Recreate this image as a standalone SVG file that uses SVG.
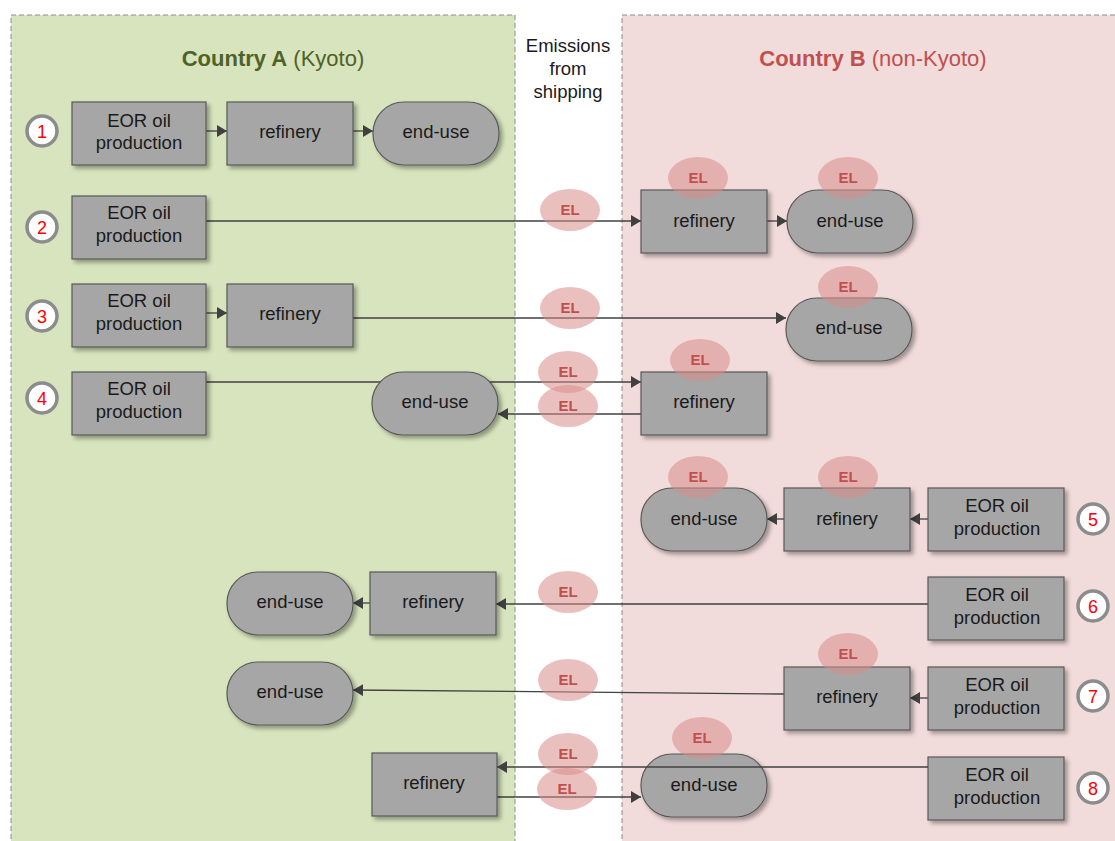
<svg xmlns="http://www.w3.org/2000/svg" width="1115" height="841" viewBox="0 0 1115 841">
<defs>
<style>
.reg{stroke:#8c8c8c;stroke-width:1;stroke-dasharray:5,3}
.box{fill:#a6a6a6;stroke:#595959;stroke-width:1.2;filter:url(#sh)}
.t{font-family:"Liberation Sans",Arial,sans-serif;font-size:18.5px;fill:#1a1a1a;text-anchor:middle}
.num{fill:#fff;stroke:#8c8c8c;stroke-width:3.5}
.nt{font-family:"Liberation Sans",Arial,sans-serif;font-size:18px;fill:#ff0000;text-anchor:middle}
.el{fill:#d98c8a;fill-opacity:0.55}
.elt{font-family:"Liberation Sans",Arial,sans-serif;font-size:15px;font-weight:bold;fill:#c0504d;text-anchor:middle}
.c{stroke:#404040;stroke-width:1.3;fill:none;marker-end:url(#ah)}
</style>
<filter id="sh" x="-10%" y="-10%" width="130%" height="140%">
<feDropShadow dx="3" dy="3" stdDeviation="2" flood-color="#000" flood-opacity="0.35"/>
</filter>
<marker id="ah" markerWidth="10" markerHeight="12" refX="10" refY="6" orient="auto" markerUnits="userSpaceOnUse">
<path d="M0,0 L10,6 L0,12 Z" fill="#404040"/>
</marker>
</defs>
<rect width="1115" height="841" fill="#fff"/>
<rect class="reg" x="11" y="15" width="504" height="840" fill="#d7e4bd"/>
<rect class="reg" x="622" y="15" width="500" height="840" fill="#f2dcdb"/>
<text x="273" y="66" font-family="Liberation Sans,Arial,sans-serif" font-size="22" text-anchor="middle" fill="#4f6228"><tspan font-weight="bold">Country A</tspan> (Kyoto)</text>
<text x="873" y="66" font-family="Liberation Sans,Arial,sans-serif" font-size="22" text-anchor="middle" fill="#c0504d"><tspan font-weight="bold">Country B</tspan> (non-Kyoto)</text>
<text class="t" x="568" y="52">Emissions</text>
<text class="t" x="568" y="75">from</text>
<text class="t" x="568" y="98">shipping</text>

<g id="connectors">
<line class="c" x1="206" y1="131" x2="227" y2="131"/>
<line class="c" x1="353" y1="131" x2="373" y2="131"/>
<line class="c" x1="206" y1="221" x2="641" y2="221"/>
<line class="c" x1="767" y1="221" x2="787" y2="221"/>
<line class="c" x1="206" y1="313" x2="227" y2="313"/>
<line class="c" x1="353" y1="318" x2="786" y2="318"/>
<line class="c" x1="206" y1="382" x2="641" y2="382"/>
<line class="c" x1="641" y1="414" x2="498" y2="414"/>
<line class="c" x1="784" y1="519" x2="767" y2="519"/>
<line class="c" x1="928" y1="519" x2="910" y2="519"/>
<line class="c" x1="928" y1="604" x2="496" y2="604"/>
<line class="c" x1="370" y1="603" x2="353" y2="603"/>
<line class="c" x1="784" y1="694" x2="353" y2="690"/>
<line class="c" x1="928" y1="698" x2="910" y2="698"/>
<line class="c" x1="497" y1="797" x2="641" y2="797"/>
</g>

<g id="n1"><circle class="num" cx="42" cy="131" r="15"/><text class="nt" x="42" y="138">1</text></g>
<g id="r1eor"><rect class="box" x="72" y="102" width="134" height="63"/><text class="t" x="139" y="127">EOR oil</text><text class="t" x="139" y="149">production</text></g>
<g id="r1ref"><rect class="box" x="227" y="102" width="126" height="63"/><text class="t" x="290" y="138">refinery</text></g>
<g id="r1end"><rect class="box" x="373" y="102" width="126" height="63" rx="31"/><text class="t" x="436" y="138">end-use</text></g>

<g id="n2"><circle class="num" cx="42" cy="227" r="15"/><text class="nt" x="42" y="234">2</text></g>
<g id="r2eor"><rect class="box" x="72" y="196" width="134" height="63"/><text class="t" x="139" y="219">EOR oil</text><text class="t" x="139" y="242">production</text></g>
<g id="r2ref"><rect class="box" x="641" y="190" width="126" height="63"/><text class="t" x="704" y="227">refinery</text></g>
<g id="r2end"><rect class="box" x="787" y="190" width="126" height="63" rx="31"/><text class="t" x="850" y="227">end-use</text></g>

<g id="n3"><circle class="num" cx="42" cy="316" r="15"/><text class="nt" x="42" y="323">3</text></g>
<g id="r3eor"><rect class="box" x="72" y="284" width="134" height="63"/><text class="t" x="139" y="307">EOR oil</text><text class="t" x="139" y="330">production</text></g>
<g id="r3ref"><rect class="box" x="227" y="284" width="126" height="63"/><text class="t" x="290" y="320">refinery</text></g>
<g id="r3end"><rect class="box" x="786" y="298" width="126" height="63" rx="31"/><text class="t" x="849" y="334">end-use</text></g>

<g id="n4"><circle class="num" cx="42" cy="398" r="15"/><text class="nt" x="42" y="405">4</text></g>
<g id="r4eor"><rect class="box" x="72" y="372" width="134" height="63"/><text class="t" x="139" y="395">EOR oil</text><text class="t" x="139" y="418">production</text></g>
<g id="r4end"><rect class="box" x="372" y="372" width="126" height="63" rx="31"/><text class="t" x="435" y="408">end-use</text></g>
<g id="r4ref"><rect class="box" x="641" y="372" width="126" height="63"/><text class="t" x="704" y="408">refinery</text></g>

<g id="n5"><circle class="num" cx="1093" cy="519" r="15"/><text class="nt" x="1093" y="526">5</text></g>
<g id="r5end"><rect class="box" x="641" y="488" width="126" height="63" rx="31"/><text class="t" x="704" y="525">end-use</text></g>
<g id="r5ref"><rect class="box" x="784" y="488" width="126" height="63"/><text class="t" x="847" y="525">refinery</text></g>
<g id="r5eor"><rect class="box" x="928" y="488" width="136" height="63"/><text class="t" x="997" y="512">EOR oil</text><text class="t" x="997" y="535">production</text></g>

<g id="n6"><circle class="num" cx="1093" cy="606" r="15"/><text class="nt" x="1093" y="613">6</text></g>
<g id="r6end"><rect class="box" x="227" y="572" width="126" height="63" rx="31"/><text class="t" x="290" y="608">end-use</text></g>
<g id="r6ref"><rect class="box" x="370" y="572" width="126" height="63"/><text class="t" x="433" y="608">refinery</text></g>
<g id="r6eor"><rect class="box" x="928" y="577" width="136" height="63"/><text class="t" x="997" y="601">EOR oil</text><text class="t" x="997" y="624">production</text></g>

<g id="n7"><circle class="num" cx="1093" cy="696" r="15"/><text class="nt" x="1093" y="703">7</text></g>
<g id="r7end"><rect class="box" x="227" y="662" width="126" height="63" rx="31"/><text class="t" x="290" y="698">end-use</text></g>
<g id="r7ref"><rect class="box" x="784" y="667" width="126" height="63"/><text class="t" x="847" y="703">refinery</text></g>
<g id="r7eor"><rect class="box" x="928" y="667" width="136" height="63"/><text class="t" x="997" y="691">EOR oil</text><text class="t" x="997" y="714">production</text></g>

<g id="n8"><circle class="num" cx="1093" cy="788" r="15"/><text class="nt" x="1093" y="795">8</text></g>
<g id="r8ref"><rect class="box" x="372" y="753" width="125" height="63"/><text class="t" x="434" y="789">refinery</text></g>
<g id="r8end"><rect class="box" x="641" y="754" width="126" height="63" rx="31"/><text class="t" x="704" y="791">end-use</text></g>
<g id="r8eor"><rect class="box" x="928" y="757" width="136" height="63"/><text class="t" x="997" y="781">EOR oil</text><text class="t" x="997" y="804">production</text></g>

<g id="connectors-front">
<line class="c" x1="928" y1="767" x2="497" y2="767"/>
</g>

<g id="el-markers">
<ellipse class="el" cx="570" cy="210" rx="30" ry="21"/><text class="elt" x="570" y="215">EL</text>
<ellipse class="el" cx="698" cy="178" rx="30" ry="21"/><text class="elt" x="698" y="183">EL</text>
<ellipse class="el" cx="848" cy="178" rx="30" ry="21"/><text class="elt" x="848" y="183">EL</text>
<ellipse class="el" cx="570" cy="308" rx="30" ry="21"/><text class="elt" x="570" y="313">EL</text>
<ellipse class="el" cx="848" cy="287" rx="30" ry="21"/><text class="elt" x="848" y="292">EL</text>
<ellipse class="el" cx="568" cy="372" rx="30" ry="21"/><text class="elt" x="568" y="377">EL</text>
<ellipse class="el" cx="568" cy="406" rx="30" ry="21"/><text class="elt" x="568" y="411">EL</text>
<ellipse class="el" cx="700" cy="360" rx="30" ry="21"/><text class="elt" x="700" y="365">EL</text>
<ellipse class="el" cx="698" cy="477" rx="30" ry="21"/><text class="elt" x="698" y="482">EL</text>
<ellipse class="el" cx="848" cy="477" rx="30" ry="21"/><text class="elt" x="848" y="482">EL</text>
<ellipse class="el" cx="568" cy="592" rx="30" ry="21"/><text class="elt" x="568" y="597">EL</text>
<ellipse class="el" cx="568" cy="680" rx="30" ry="21"/><text class="elt" x="568" y="685">EL</text>
<ellipse class="el" cx="848" cy="654" rx="30" ry="21"/><text class="elt" x="848" y="659">EL</text>
<ellipse class="el" cx="568" cy="754" rx="30" ry="21"/><text class="elt" x="568" y="759">EL</text>
<ellipse class="el" cx="567" cy="789" rx="30" ry="21"/><text class="elt" x="567" y="794">EL</text>
<ellipse class="el" cx="702" cy="738" rx="30" ry="21"/><text class="elt" x="702" y="743">EL</text>
</g>
</svg>
